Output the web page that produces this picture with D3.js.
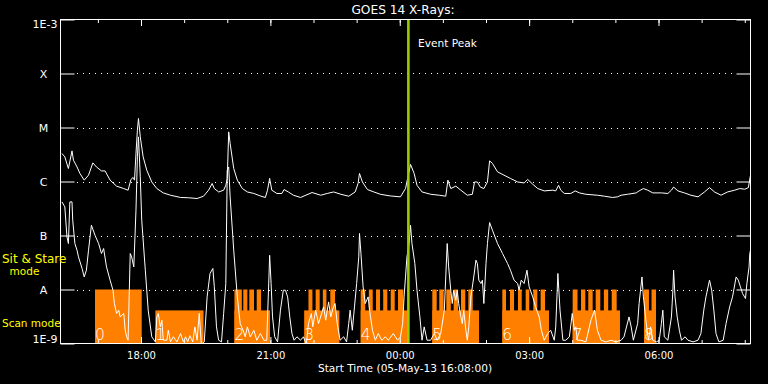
<!DOCTYPE html>
<html>
<head>
<meta charset="utf-8">
<script src="https://cdn.jsdelivr.net/npm/d3@7"></script>
<style>
body { margin: 0; background: #000; }
svg { display: block; font-family: "DejaVu Sans", sans-serif; }
</style>
</head>
<body>
<svg id="chart" width="768" height="384"></svg>
<script>
// time is given in minutes after the plot start (05-May-13 16:08 UT)
var startTime = Date.UTC(2013, 4, 5, 16, 8);
var endTime = Date.UTC(2013, 4, 6, 8, 8);
var eventPeak = 484;

var goesLevels = [1e-3, 1e-4, 1e-5, 1e-6, 1e-7, 1e-8, 1e-9];
var goesLabels = ["1E-3", "X", "M", "C", "B", "A", "1E-9"];
var gridLevels = [1e-4, 1e-5, 1e-6, 1e-7, 1e-8];

// observing plan: sit & stare blocks reach 1e-8, scan blocks stop lower
var modeLevel = { sit: 1e-8, scan: 4.1e-9 };
var planStart = [48, 132, 242, 339, 417.7, 517.3, 614.7, 712.6, 811.8];
var planEnd   = [113, 199, 291.5, 388, 484, 582.3, 679.7, 778.4, 828.5];
var planMode  = ["sit", "scan", "scan", "scan", "scan", "scan", "scan", "scan", "scan"];
var planTeeth = [
  [],
  [],
  [[242, 252.3], [254.3, 260], [262.7, 269.2], [273, 279]],
  [[345, 350.5], [355, 360.6], [365, 370], [375.4, 382]],
  [[417.7, 424], [429, 434.4], [439, 444.5], [449, 454.7], [459.4, 465], [469.6, 477]],
  [[517.3, 523.4], [527, 533], [536.8, 543], [547, 553], [557.2, 563.2], [567.4, 573.5]],
  [[614.7, 619.8], [625.4, 631], [636.5, 641.7], [647.2, 652.2], [657.8, 663.4], [668, 674.1]],
  [[712.6, 719.3], [724.2, 730.2], [734.3, 740.4], [744.6, 751], [756, 762], [766.9, 773.8]],
  [[811.8, 818.7], [822.3, 828.5]]
];

// GOES 1-8 A channel [minute, W/m^2]
var xrsLong = [[2,3.3e-6],[6,2.86e-6],[11,1.74e-6],[16,3.69e-6],[18,2.48e-6],[23,1.86e-6],[27,1.41e-6],[33,1.06e-6],
  [39,1.31e-6],[45,2.21e-6],[50,1.86e-6],[57,1.57e-6],[62,1.57e-6],[69,1.06e-6],[78,8.2e-7],[88,7.4e-7],[94,6.9e-7],
  [98,1.09e-6],[101,1.19e-6],[103,1.06e-6],[105,3.3e-6],[107,8.9e-6],[108.5,1.47e-5],[111,6.7e-6],[115,2.86e-6],
  [120,1.62e-6],[127,9.8e-7],[134,7.4e-7],[143,6.15e-7],[153,5.57e-7],[167,5.06e-7],[178,5.0e-7],[190,4.84e-7],
  [199,5.34e-7],[206,6.9e-7],[211,9.2e-7],[214,7.4e-7],[220,6.4e-7],[227,6.9e-7],[230,8.5e-7],[232,1.14e-6],
  [234,8.3e-6],[236,5.06e-6],[241,1.74e-6],[246,1.06e-6],[253,7.4e-7],[260,6.4e-7],[269,6.0e-7],[278,5.4e-7],
  [285,5.06e-7],[288,6.9e-7],[291,1.14e-6],[294,6.9e-7],[301,6.0e-7],[308,6.0e-7],[311,7.1e-7],[317,6.4e-7],
  [324,5.57e-7],[334,5.06e-7],[350,6.25e-7],[362,5.57e-7],[371,6.0e-7],[380,6.4e-7],[390,5.8e-7],[401,5.34e-7],
  [410,6.4e-7],[414,9.2e-7],[416,1.41e-6],[420,9.8e-7],[427,7.1e-7],[436,6.4e-7],[445,5.8e-7],[459,5.4e-7],
  [473,5.2e-7],[480,7.4e-7],[483,1.14e-6],[487,2.07e-6],[492,1.41e-6],[496,8.5e-7],[503,6.4e-7],[515,5.8e-7],
  [527,5.57e-7],[536,5.34e-7],[539,1.06e-6],[543,7.4e-7],[550,8.2e-7],[557,6.9e-7],[566,5.57e-7],[573,5.8e-7],
  [576,9.8e-7],[580,9.8e-7],[584,7.9e-7],[589,7.4e-7],[594,9.8e-7],[597,2.41e-6],[601,2.16e-6],[608,1.51e-6],
  [617,1.31e-6],[626,1.14e-6],[636,9.8e-7],[645,9.4e-7],[650,1.09e-6],[657,8.9e-7],[664,7.4e-7],[673,6.7e-7],
  [685,6.9e-7],[689,6.7e-7],[693,8.5e-7],[696,6.9e-7],[701,6.0e-7],[710,6.0e-7],[716,6.7e-7],[722,6.15e-7],
  [731,5.8e-7],[747,5.57e-7],[757,5.34e-7],[768,5.06e-7],[775,5.2e-7],[780,5.57e-7],[789,5.8e-7],[801,6.15e-7],
  [805,6.7e-7],[811,7.4e-7],[817,6.9e-7],[824,6.15e-7],[836,6.15e-7],[845,6.0e-7],[850,6.9e-7],[853,7.9e-7],
  [859,6.7e-7],[868,6.15e-7],[877,5.57e-7],[887,5.2e-7],[896,6.4e-7],[903,7.7e-7],[910,6.4e-7],[919,5.57e-7],
  [928,6.4e-7],[938,6.9e-7],[945,7.4e-7],[952,7.2e-7],[957,7.7e-7],[960,1.31e-6]];

// GOES 0.5-4 A channel [minute, W/m^2]
var xrsShort = [[2,4.19e-7],[6,3.39e-7],[9,9.4e-8],[11,7.1e-8],[13,4.19e-7],[16,4.19e-7],[17,1.92e-7],[20,7.1e-8],
  [23,5.35e-8],[25,4.02e-8],[30,2.45e-8],[33,1.71e-8],[36,2.28e-8],[39,5.35e-8],[43,1.55e-7],[48,1.01e-7],[53,7.1e-8],
  [57,4.64e-8],[60,5.74e-8],[64,2.62e-8],[69,1.49e-8],[73,9.7e-9],[75,5.5e-9],[78,3.6e-9],[81,4.14e-9],[83,3.11e-9],
  [88,3.6e-9],[90,1.76e-9],[92,1.33e-9],[94,1.15e-9],[97,4.64e-8],[99,4.02e-8],[102,2.62e-8],[105,2.94e-7],
  [107,2.86e-6],[108.5,6.7e-6],[111,1.22e-6],[113,1.92e-7],[118,2.28e-8],[122,4.14e-9],[127,1.33e-9],[132,1.07e-9],
  [134,3.11e-9],[136,3.6e-9],[139,2.03e-9],[141,2.7e-9],[143,1.15e-9],[148,1.15e-9],[150,1.76e-9],[153,1.07e-9],
  [157,1.33e-9],[162,1.07e-9],[167,1.53e-9],[171,1.07e-9],[174,1.33e-9],[177,1.07e-9],[180,1.4e-9],[184,1.07e-9],
  [187,2.03e-9],[190,1.15e-9],[193,3.6e-9],[196,9.5e-10],[200,1.07e-9],[204,7.3e-9],[208,1.98e-8],[212,2.45e-8],
  [214,1.12e-8],[217,2.03e-9],[220,1.15e-9],[224,1.07e-9],[227,3.6e-9],[230,1.29e-8],[232,1.62e-6],[234,1.86e-6],
  [236,5.2e-7],[241,5.35e-8],[246,7.3e-9],[250,2.34e-9],[254,1.76e-9],[257,1.33e-9],[260,2.03e-9],[264,1.33e-9],
  [269,1.76e-9],[273,1.15e-9],[278,1.53e-9],[283,1.15e-9],[287,1.15e-9],[290,1.71e-8],[291,4.3e-8],[293,1.29e-8],
  [295,3.11e-9],[298,1.33e-9],[302,1.07e-9],[306,4.14e-9],[310,9.7e-9],[313,9.7e-9],[316,7.3e-9],[319,3.11e-9],
  [322,1.53e-9],[325,1.15e-9],[329,1.33e-9],[334,1.15e-9],[338,1.33e-9],[342,9.5e-10],[345,2.34e-9],[349,3.6e-9],
  [351,2.03e-9],[355,4.14e-9],[359,2.34e-9],[364,3.85e-9],[366,4.76e-9],[369,2.7e-9],[373,5.9e-9],[376,3.11e-9],
  [379,4.44e-9],[382,5.5e-9],[385,2.34e-9],[389,1.15e-9],[394,1.33e-9],[398,1.07e-9],[401,2.34e-9],[403,4.14e-9],
  [406,1.76e-9],[409,4.76e-9],[412,1.29e-8],[415,4.02e-8],[416,1.09e-7],[418,4.64e-8],[421,1.12e-8],[424,5.5e-9],
  [428,7.3e-9],[430,4.14e-9],[434,1.76e-9],[438,1.15e-9],[442,1.53e-9],[447,1.15e-9],[452,1.33e-9],[456,1.15e-9],
  [463,1.53e-9],[469,1.15e-9],[473,1.33e-9],[476,2.34e-9],[478,7.3e-9],[480,1.71e-8],[482,4.02e-8],[485,7.1e-8],
  [487,1.55e-7],[489,7.1e-8],[493,3.03e-8],[496,9.7e-9],[500,3.11e-9],[503,1.15e-9],[506,2.03e-9],[510,1.15e-9],
  [515,1.15e-9],[520,1.53e-9],[524,1.15e-9],[529,1.53e-9],[534,4.14e-9],[536,1.71e-8],[538,7.1e-8],[540,2.62e-8],
  [543,9.7e-9],[545,5.5e-9],[547,9.7e-9],[550,6.3e-9],[552,9.7e-9],[554,5.5e-9],[557,3.11e-9],[559,2.34e-9],
  [561,4.14e-9],[564,1.76e-9],[566,1.15e-9],[568,2.03e-9],[571,7.3e-9],[575,1.71e-8],[578,3.49e-8],[580,3.03e-8],
  [582,1.49e-8],[585,1.29e-8],[587,1.49e-8],[589,5.5e-9],[592,3.03e-8],[594,7.1e-8],[597,1.74e-7],[601,1.25e-7],
  [608,7.1e-8],[615,4.64e-8],[622,3.03e-8],[626,2.28e-8],[631,1.49e-8],[636,1.29e-8],[638,9.7e-9],[641,1.49e-8],
  [645,1.29e-8],[649,2.28e-8],[652,1.12e-8],[657,7.3e-9],[661,4.76e-9],[666,3.11e-9],[669,1.76e-9],[673,1.15e-9],
  [678,1.53e-9],[682,1.76e-9],[687,1.15e-9],[689,2.03e-9],[692,1.98e-8],[695,4.14e-9],[699,1.15e-9],[703,1.15e-9],
  [708,1.33e-9],[712,3.6e-9],[715,1.76e-9],[717,2.03e-9],[719,1.15e-9],[724,1.15e-9],[731,1.07e-9],[738,2.7e-9],
  [743,4.14e-9],[747,1.76e-9],[752,1.15e-9],[759,1.07e-9],[766,1.15e-9],[773,1.07e-9],[780,1.15e-9],[784,1.33e-9],
  [791,3.11e-9],[794,2.03e-9],[797,1.15e-9],[803,2.34e-9],[805,5.5e-9],[809,1.71e-8],[811,7.3e-9],[815,2.34e-9],
  [818,1.15e-9],[821,2.03e-9],[824,1.15e-9],[829,1.07e-9],[833,1.15e-9],[836,2.34e-9],[838,4.14e-9],[840,1.33e-9],
  [845,1.15e-9],[850,3.11e-9],[852,9.7e-9],[853,2.28e-8],[855,7.3e-9],[858,3.11e-9],[861,1.76e-9],[864,1.15e-9],
  [869,1.33e-9],[873,1.15e-9],[880,1.07e-9],[887,1.15e-9],[891,1.53e-9],[895,4.14e-9],[898,7.3e-9],[903,1.49e-8],
  [906,9.7e-9],[909,4.14e-9],[912,1.53e-9],[916,1.07e-9],[922,1.15e-9],[926,2.34e-9],[931,4.76e-9],[935,7.3e-9],
  [940,1.71e-8],[943,1.49e-8],[946,1.12e-8],[949,8.4e-9],[953,6.8e-9],[955,1.29e-8],[958,2.62e-8],[959,4.64e-8],
  [960,5.35e-8]];

var plotLeft = 60.5, plotRight = 750.5, plotTop = 19.5, plotBottom = 343.5;
var svg = d3.select("#chart");

var x = d3.scaleUtc().domain([new Date(startTime), new Date(endTime)]).range([plotLeft, plotRight]);
var y = d3.scaleLog().domain([1e-9, 1e-3]).range([plotBottom, plotTop]);

function tx(m) { return x(new Date(startTime + m * 60000)); }

svg.append("rect").attr("width", 768).attr("height", 384).attr("fill", "#000");

svg.append("defs").append("clipPath").attr("id", "plotClip")
  .append("rect").attr("x", plotLeft).attr("y", plotTop)
  .attr("width", plotRight - plotLeft).attr("height", plotBottom - plotTop);

// dotted class-level grid
svg.append("g").selectAll("line").data(gridLevels).join("line")
  .attr("x1", 77).attr("x2", 736)
  .attr("y1", function(d) { return Math.round(y(d)) + 0.5; })
  .attr("y2", function(d) { return Math.round(y(d)) + 0.5; })
  .attr("stroke", "#fff").attr("stroke-width", 1)
  .attr("stroke-dasharray", "1,5");

// observing plan blocks
var plan = svg.append("g").attr("fill", "#ff8000");
planStart.forEach(function(s, i) {
  plan.append("rect")
    .attr("x", tx(s)).attr("width", tx(planEnd[i]) - tx(s))
    .attr("y", y(modeLevel[planMode[i]])).attr("height", plotBottom - y(modeLevel[planMode[i]]));
  planTeeth[i].forEach(function(t) {
    plan.append("rect")
      .attr("x", tx(t[0])).attr("width", tx(t[1]) - tx(t[0]))
      .attr("y", y(modeLevel.sit)).attr("height", plotBottom - y(modeLevel.sit));
  });
});

svg.append("g").selectAll("text").data(planStart).join("text")
  .attr("x", function(d) { return tx(d); })
  .attr("y", 340)
  .attr("fill", "#fff").attr("font-size", 15.5).attr("font-weight", 200)
  .text(function(d, i) { return i; });

// flux curves
var line = d3.line()
  .x(function(d) { return tx(d[0]); })
  .y(function(d) { return y(d[1]); });

var curves = svg.append("g").attr("clip-path", "url(#plotClip)");
[xrsLong, xrsShort].forEach(function(series) {
  curves.append("path").datum(series)
    .attr("d", line)
    .attr("fill", "none").attr("stroke", "#fff").attr("stroke-width", 1);
});

// event peak marker
svg.append("line")
  .attr("x1", tx(eventPeak)).attr("x2", tx(eventPeak))
  .attr("y1", plotTop).attr("y2", plotBottom)
  .attr("stroke", "#99cc00").attr("stroke-width", 2.6);
svg.append("text")
  .attr("x", 418).attr("y", 46.5)
  .attr("fill", "#fff").attr("font-size", 10.6)
  .text("Event Peak");

// axes
function styleAxis(g) {
  g.select(".domain").remove();
  g.selectAll("line").attr("stroke", "#fff");
  g.selectAll("text").attr("fill", "#fff").attr("font-family", "DejaVu Sans").attr("font-size", 10);
}
var fmt = d3.utcFormat("%H:%M");
svg.append("g").attr("transform", "translate(0," + plotTop + ")")
  .call(d3.axisTop(x).ticks(d3.utcHour.every(1)).tickSize(-3.5).tickFormat("")).call(styleAxis);
svg.append("g").attr("transform", "translate(0," + plotTop + ")")
  .call(d3.axisTop(x).ticks(d3.utcHour.every(3)).tickSize(-6.5).tickFormat("")).call(styleAxis);
svg.append("g").attr("transform", "translate(0," + plotBottom + ")")
  .call(d3.axisBottom(x).ticks(d3.utcHour.every(1)).tickSize(-3.5).tickFormat("")).call(styleAxis);
svg.append("g").attr("transform", "translate(0," + plotBottom + ")")
  .call(d3.axisBottom(x).ticks(d3.utcHour.every(3)).tickSize(-6.5).tickPadding(8).tickFormat(fmt)).call(styleAxis);
svg.append("g").attr("transform", "translate(" + plotLeft + ",0)")
  .call(d3.axisLeft(y).tickValues(goesLevels).tickSize(-14).tickFormat("")).call(styleAxis);
svg.append("g").attr("transform", "translate(" + plotRight + ",0)")
  .call(d3.axisRight(y).tickValues(goesLevels).tickSize(-14).tickFormat("")).call(styleAxis);

svg.append("rect")
  .attr("x", plotLeft).attr("y", plotTop).attr("width", plotRight - plotLeft).attr("height", plotBottom - plotTop)
  .attr("fill", "none").attr("stroke", "#fff").attr("stroke-width", 1);

svg.append("g").selectAll("text").data(goesLevels).join("text")
  .attr("x", function(d, i) { return (i == 0 || i == goesLevels.length - 1) ? 57.5 : 43.5; })
  .attr("y", function(d, i) {
    if (i == 0) return y(d) + 8;
    if (i == goesLevels.length - 1) return y(d) - 0.5;
    return y(d) + 4;
  })
  .attr("text-anchor", function(d, i) { return (i == 0 || i == goesLevels.length - 1) ? "end" : "middle"; })
  .attr("fill", "#fff").attr("font-size", 11)
  .text(function(d, i) { return goesLabels[i]; });

// titles
svg.append("text").attr("x", 403).attr("y", 14).attr("text-anchor", "middle")
  .attr("fill", "#fff").attr("font-size", 12.2).text("GOES 14 X-Rays:");
svg.append("text").attr("x", 405).attr("y", 371.5).attr("text-anchor", "middle")
  .attr("fill", "#fff").attr("font-size", 10.6).text("Start Time (05-May-13 16:08:00)");

// mode legend
var modes = svg.append("g").attr("fill", "#ffff00");
modes.append("text").attr("x", 2).attr("y", 263).attr("font-size", 12).text("Sit & Stare");
modes.append("text").attr("x", 24.5).attr("y", 275).attr("text-anchor", "middle").attr("font-size", 10.5).text("mode");
modes.append("text").attr("x", 2).attr("y", 327).attr("font-size", 10.5).text("Scan mode");
</script>
</body>
</html>
